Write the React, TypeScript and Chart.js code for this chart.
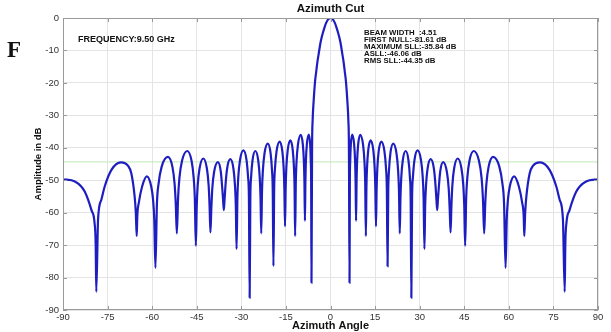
import React, { useEffect, useRef } from "react";
import { Chart, registerables } from "chart.js";

Chart.register(...registerables);

// Azimuth cut pattern (degrees, dB)
const azimuthDeg: number[] = [
  -90, -86.0, -82.7, -80.4, -79.4, -79.0, -78.8,
  -78.2, -77.1, -76.0, -73.7, -70.5, -68.1, -67.0, -65.9, -65.5, -65.2,
  -65.0, -64.5, -63.4, -61.8, -60.3, -59.7, -59.3, -58.9,
  -58.4, -57.85, -56.8, -54.7, -53.2, -52.45, -52.06, -51.7,
  -51.28, -50.83, -49.95, -48.2, -46.75, -46.03, -45.65, -45.3,
  -45.0, -44.68, -44.05, -42.8, -41.6, -41.0, -40.69, -40.4,
  -40.1, -39.78, -39.15, -37.9, -36.9, -36.4, -36.14, -35.9,
  -35.64, -35.35, -34.8, -33.7, -32.65, -32.13, -31.85, -31.6,
  -31.32, -31.03, -30.45, -29.3, -28.25, -27.73, -27.45, -27.2,
  -26.97, -26.73, -26.25, -25.3, -24.3, -23.8, -23.54, -23.3,
  -23.04, -22.75, -22.2, -21.1, -20.15, -19.68, -19.43, -19.2,
  -18.95, -18.68, -18.15, -17.1, -16.2, -15.75, -15.52, -15.3,
  -15.08, -14.85, -14.4, -13.5, -12.7, -12.3, -12.09, -11.9,
  -11.67, -11.43, -10.95, -10.0, -9.3, -8.95, -8.77, -8.6,
  -8.44, -8.28, -7.95, -7.3, -6.85, -6.63, -6.51, -6.4,
  -6.2, -6.0, -5.65, -5.2, -4.8, -4.4, -4.0, -3.4, -3.0, -2.6, -2.0, -1.5, -1.0, -0.5,
  0,
  0.5, 1.0, 1.5, 2.0, 2.6, 3.0, 3.4, 4.0, 4.4, 4.8, 5.2, 5.65, 6.0, 6.2,
  6.4, 6.51, 6.63, 6.85, 7.3, 7.95, 8.28, 8.44,
  8.6, 8.77, 8.95, 9.3, 10.0, 10.95, 11.43, 11.67,
  11.9, 12.09, 12.3, 12.7, 13.5, 14.4, 14.85, 15.08,
  15.3, 15.52, 15.75, 16.2, 17.1, 18.15, 18.68, 18.95,
  19.2, 19.43, 19.68, 20.15, 21.1, 22.2, 22.75, 23.04,
  23.3, 23.54, 23.8, 24.3, 25.3, 26.25, 26.73, 26.97,
  27.2, 27.45, 27.73, 28.25, 29.3, 30.45, 31.03, 31.32,
  31.6, 31.85, 32.13, 32.65, 33.7, 34.8, 35.35, 35.64,
  35.9, 36.14, 36.4, 36.9, 37.9, 39.15, 39.78, 40.1,
  40.4, 40.69, 41.0, 41.6, 42.8, 44.05, 44.68, 45.0,
  45.3, 45.65, 46.03, 46.75, 48.2, 49.95, 50.83, 51.28,
  51.7, 52.06, 52.45, 53.2, 54.7, 56.8, 57.85, 58.4,
  58.9, 59.3, 59.7, 60.3, 61.8, 63.4, 64.5, 65.0,
  65.2, 65.5, 65.9, 67.0, 68.1, 70.5, 73.7, 76.0, 77.1, 78.2,
  78.8, 79.0, 79.4, 80.4, 82.7, 86.0, 90,
];

const amplitudeDb: number[] = [
  -49.7, -50.4, -53.5, -59.3, -63, -70, -84.4,
  -62, -56, -52, -46.8, -44.5, -45.6, -47.9, -55, -60, -67.2,
  -61, -57, -52, -48.8, -52, -56, -62, -77.0,
  -57.3, -51.1, -45.8, -42.8, -45.8, -51.1, -57.3, -66.4,
  -55.5, -49.3, -44.0, -41.0, -44.0, -49.3, -55.5, -70.2,
  -57.8, -51.6, -46.3, -43.3, -46.3, -51.6, -57.8, -66.1,
  -58.9, -52.7, -47.4, -44.4, -47.4, -52.7, -56.0, -59.2,
  -56.0, -51.8, -46.5, -43.5, -46.5, -51.8, -58.0, -71.2,
  -55.3, -49.1, -43.8, -40.8, -43.8, -49.1, -55.3, -86.2,
  -55.5, -49.3, -44.0, -41.0, -44.0, -49.3, -55.5, -66.4,
  -53.2, -47.0, -41.7, -38.7, -41.7, -47.0, -53.2, -76.5,
  -52.6, -46.4, -41.1, -38.1, -41.1, -46.4, -52.6, -64.2,
  -52.2, -46.0, -40.7, -37.7, -40.7, -46.0, -52.2, -67.2,
  -50.5, -44.3, -39.0, -36.0, -39.0, -44.3, -50.5, -62.5,
  -50.4, -44.2, -38.9, -35.9, -38.9, -44.2, -50.4, -81.6,
  -40, -31.4, -25.3, -19.6, -16.5, -13.5, -11.2, -7.8, -6.1, -4.7, -2.9, -1.6, -0.7, -0.2,
  0,
  -0.2, -0.7, -1.6, -2.9, -4.7, -6.1, -7.8, -11.2, -13.5, -16.5, -19.6, -25.3, -31.4, -40,
  -81.6, -50.4, -44.2, -38.9, -35.9, -38.9, -44.2, -50.4,
  -62.5, -50.5, -44.3, -39.0, -36.0, -39.0, -44.3, -50.5,
  -67.2, -52.2, -46.0, -40.7, -37.7, -40.7, -46.0, -52.2,
  -64.2, -52.6, -46.4, -41.1, -38.1, -41.1, -46.4, -52.6,
  -76.5, -53.2, -47.0, -41.7, -38.7, -41.7, -47.0, -53.2,
  -66.4, -55.5, -49.3, -44.0, -41.0, -44.0, -49.3, -55.5,
  -86.2, -55.3, -49.1, -43.8, -40.8, -43.8, -49.1, -55.3,
  -71.2, -58.0, -51.8, -46.5, -43.5, -46.5, -51.8, -56.0,
  -59.2, -56.0, -52.7, -47.4, -44.4, -47.4, -52.7, -58.9,
  -66.1, -57.8, -51.6, -46.3, -43.3, -46.3, -51.6, -57.8,
  -70.2, -55.5, -49.3, -44.0, -41.0, -44.0, -49.3, -55.5,
  -66.4, -57.3, -51.1, -45.8, -42.8, -45.8, -51.1, -57.3,
  -77.0, -62, -56, -52, -48.8, -52, -57, -61,
  -67.2, -60, -55, -47.9, -45.6, -44.5, -46.8, -52, -56, -62,
  -84.4, -70, -63, -59.3, -53.5, -50.4, -49.7,
];

const rmsSllDb = -44.35;
const xTickStep = 15;
const yTickStep = 10;
const titleText = "Azimuth Cut";
const xAxisTitle = "Azimuth Angle";
const yAxisTitle = "Amplitude in dB";
const panelLetter = "F";
const frequencyText = "FREQUENCY:9.50 GHz";
const statsLines: string[] = [
  "BEAM WIDTH  :4.51",
  "FIRST NULL:-81.61 dB",
  "MAXIMUM SLL:-35.84 dB",
  "ASLL:-46.06 dB",
  "RMS SLL:-44.35 dB",
];

const SANS = "'Liberation Sans', Arial, Helvetica, sans-serif";

const decorPlugin = {
  id: "decor",
  afterDatasetsDraw(chart: any) {
    const { ctx, chartArea } = chart;
    const { left, right, top, bottom } = chartArea;
    const xs = chart.scales.x;
    const ys = chart.scales.y;
    ctx.save();
    ctx.strokeStyle = "#9a9a9a";
    ctx.lineWidth = 1;
    ctx.strokeRect(left + 0.5, top + 0.5, right - left - 1, bottom - top - 1);
    ctx.beginPath();
    for (let v = xs.min; v <= xs.max + 1e-9; v += xTickStep) {
      const px = Math.round(xs.getPixelForValue(v)) + 0.5;
      ctx.moveTo(px, bottom);
      ctx.lineTo(px, bottom - 4);
      ctx.moveTo(px, top);
      ctx.lineTo(px, top + 4);
    }
    for (let v = ys.min; v <= ys.max + 1e-9; v += yTickStep) {
      const py = Math.round(ys.getPixelForValue(v)) + 0.5;
      ctx.moveTo(left, py);
      ctx.lineTo(left + 4, py);
      ctx.moveTo(right, py);
      ctx.lineTo(right - 4, py);
    }
    ctx.stroke();
    ctx.restore();
  },
  afterDraw(chart: any) {
    const { ctx, chartArea } = chart;
    const cx = (chartArea.left + chartArea.right) / 2;
    const cy = (chartArea.top + chartArea.bottom) / 2;
    ctx.save();
    ctx.fillStyle = "#111";
    ctx.textAlign = "center";
    ctx.textBaseline = "middle";
    ctx.font = `bold 11.5px ${SANS}`;
    ctx.fillText(titleText, cx, 9);
    ctx.font = `bold 11px ${SANS}`;
    ctx.fillText(xAxisTitle, cx, 326);
    ctx.save();
    ctx.translate(38, cy);
    ctx.rotate(-Math.PI / 2);
    ctx.font = `bold 9.5px ${SANS}`;
    ctx.fillText(yAxisTitle, 0, 0);
    ctx.restore();

    ctx.textAlign = "left";
    ctx.textBaseline = "alphabetic";
    ctx.font = `bold 23px 'Liberation Serif', 'Times New Roman', serif`;
    ctx.fillText(panelLetter, 7, 57);

    ctx.textBaseline = "middle";
    ctx.font = `bold 9px ${SANS}`;
    ctx.fillText(frequencyText, 78, 40);
    ctx.font = `bold 7.8px ${SANS}`;
    statsLines.forEach((line, i) => {
      ctx.fillText(line, 364, 32.5 + i * 7.05);
    });
    ctx.restore();
  },
};

export default function App() {
  const ref = useRef<HTMLCanvasElement | null>(null);
  useEffect(() => {
    if (!ref.current) return;
    const points = azimuthDeg.map((x, i) => ({ x, y: amplitudeDb[i] }));
    const chart = new Chart(ref.current, {
      type: "line",
      data: {
        datasets: [
          {
            data: points,
            borderColor: "#1e1ec0",
            borderWidth: 2.2,
            pointRadius: 0,
            cubicInterpolationMode: "monotone",
            order: 0,
          },
          {
            data: [
              { x: -90, y: rmsSllDb },
              { x: 90, y: rmsSllDb },
            ],
            borderColor: "#bfe8b6",
            borderWidth: 1,
            pointRadius: 0,
            order: 1,
          },
        ],
      } as any,
      options: {
        responsive: false,
        animation: false,
        layout: { padding: { left: 0, right: 13, top: 18, bottom: 0 } },
        plugins: {
          legend: { display: false },
          tooltip: { enabled: false },
          title: { display: false },
        },
        scales: {
          x: {
            type: "linear",
            min: -90,
            max: 90,
            ticks: {
              stepSize: xTickStep,
              color: "#333",
              font: { size: 9.5, family: SANS },
              padding: 2,
              maxRotation: 0,
              autoSkip: false,
            },
            grid: { color: "#e4e4e4", drawTicks: false },
            border: { display: false },
            afterFit: (s: any) => {
              s.height = 22;
            },
          },
          y: {
            type: "linear",
            min: -90,
            max: 0,
            ticks: {
              stepSize: yTickStep,
              color: "#333",
              font: { size: 9.5, family: SANS },
              padding: 4,
              autoSkip: false,
            },
            grid: { color: "#e4e4e4", drawTicks: false },
            border: { display: false },
            afterFit: (s: any) => {
              s.width = 63;
            },
          },
        },
      } as any,
      plugins: [decorPlugin],
    });
    return () => chart.destroy();
  }, []);
  return (
    <div style={{ position: "fixed", left: 0, top: 0, width: 611, height: 332, background: "#fff" }}>
      <canvas ref={ref} width={611} height={332} />
    </div>
  );
}
